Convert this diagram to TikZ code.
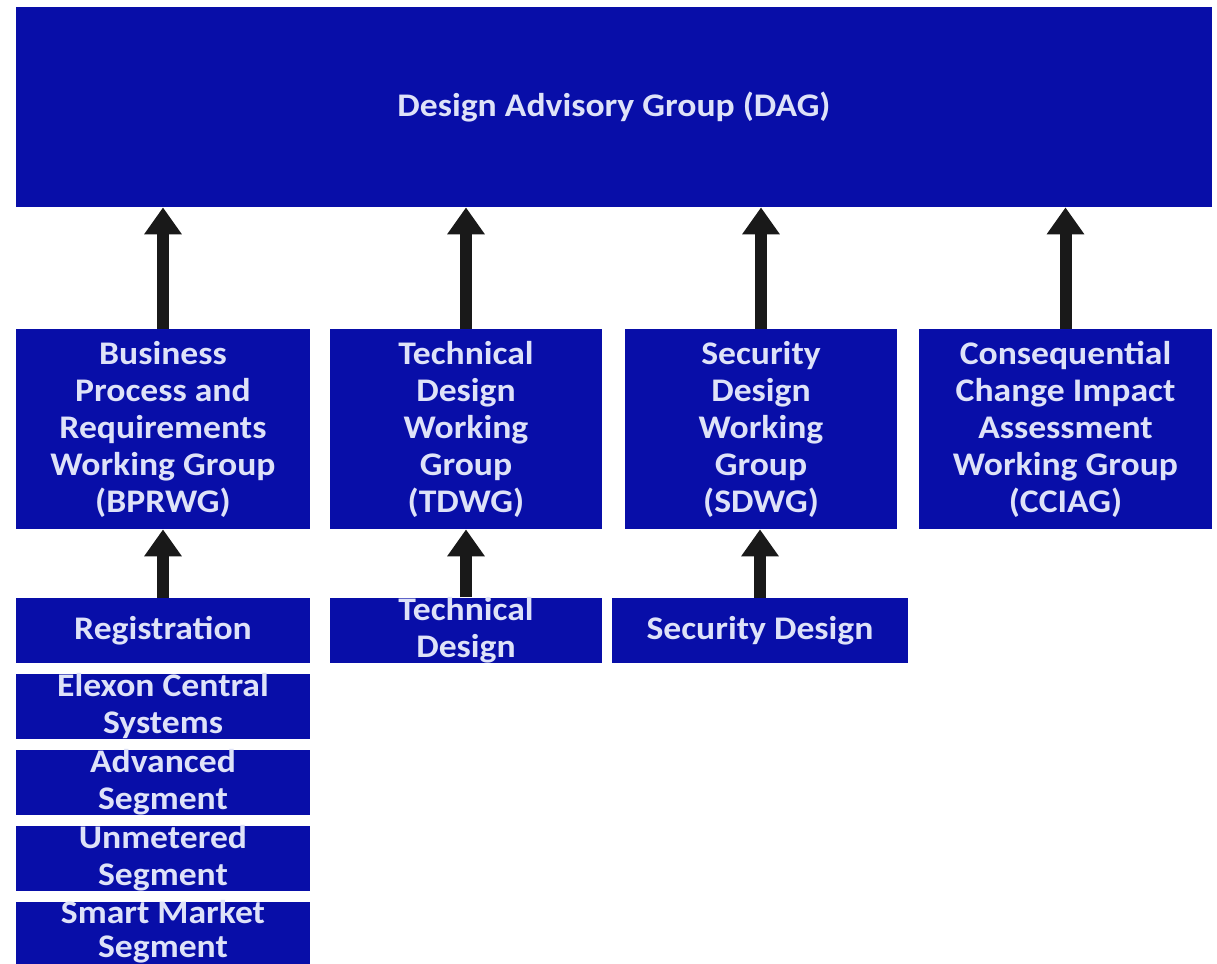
\documentclass[tikz,border=0pt]{standalone}
\usepackage{fontspec}
\setmainfont{Carlito}[FakeStretch=1.08]
\usetikzlibrary{arrows.meta}
\definecolor{boxblue}{RGB}{8,14,168}
\definecolor{boxtext}{RGB}{222,226,248}
\begin{document}
\begin{tikzpicture}[x=0.5pt,y=-0.5pt,
  box/.style={rectangle, fill=boxblue, draw=none, text=boxtext, align=center,
    inner sep=0pt, font=\bfseries\fontsize{16.5}{18.5}\selectfont},
  up/.style={line width=6pt, draw=black!90, -{Triangle[width=18pt,length=13.5pt]}}]
\fill[white] (0,0) rectangle (1217,964);
\useasboundingbox (0,0) rectangle (1217,964);
\node[box, minimum width=598pt, minimum height=100pt] (dag) at (614,107) {Design Advisory Group (DAG)};
\node[box, minimum width=147pt, minimum height=100pt] (bprwg) at (163,429) {Business\\Process and\\Requirements\\Working Group\\(BPRWG)};
\node[box, minimum width=136pt, minimum height=100pt] (tdwg) at (466,429) {Technical\\Design\\Working\\Group\\(TDWG)};
\node[box, minimum width=136pt, minimum height=100pt] (sdwg) at (761,429) {Security\\Design\\Working\\Group\\(SDWG)};
\node[box, minimum width=146.5pt, minimum height=100pt] (cciag) at (1065.5,429) {Consequential\\Change Impact\\Assessment\\Working Group\\(CCIAG)};
\node[box, minimum width=147pt, minimum height=32.5pt] (reg) at (163,630.5) {Registration};
\node[box, minimum width=136pt, minimum height=32.5pt] (td) at (466,630.5) {Technical\\Design};
\node[box, minimum width=148pt, minimum height=32.5pt] (sd) at (760,630.5) {Security Design};
\node[box, minimum width=147pt, minimum height=32.5pt] (ecs) at (163,706.5) {Elexon Central\\Systems};
\node[box, minimum width=147pt, minimum height=32.5pt] (adv) at (163,782.5) {Advanced\\Segment};
\node[box, minimum width=147pt, minimum height=32.5pt] (unm) at (163,858.5) {Unmetered\\Segment};
\node[box, minimum width=147pt, minimum height=31pt] (sms) at (163,933) {};
\node[box, fill=none, font=\bfseries\fontsize{16.5}{17}\selectfont] (smstext) at (163,931.5) {Smart Market\\Segment};
\draw[up] (bprwg.north) -- (bprwg.north |- dag.south);
\draw[up] (tdwg.north) -- (tdwg.north |- dag.south);
\draw[up] (sdwg.north) -- (sdwg.north |- dag.south);
\draw[up] (cciag.north) -- (cciag.north |- dag.south);
\draw[up] (reg.north) -- (bprwg.south);
\draw[up] (td.north) -- (tdwg.south);
\draw[up] (sd.north) -- (sd.north |- sdwg.south);
\end{tikzpicture}
\end{document}
